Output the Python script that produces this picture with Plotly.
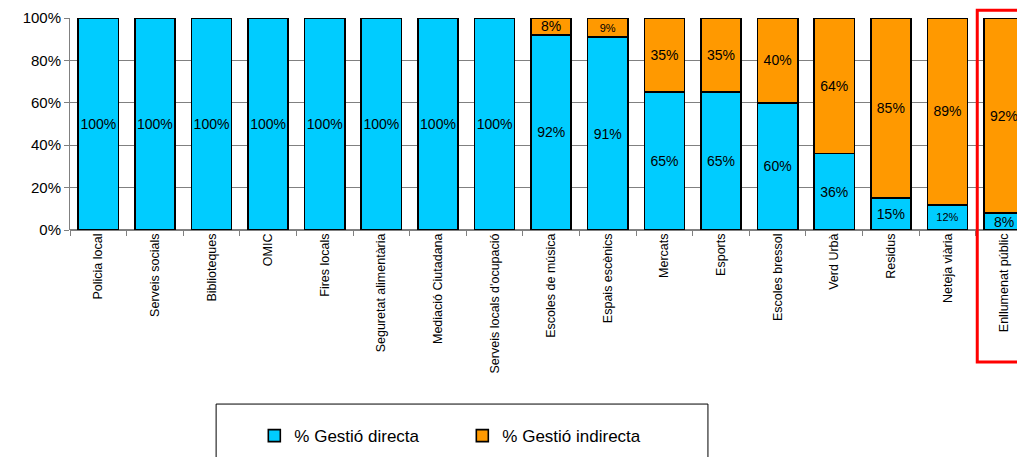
import plotly.graph_objects as go

categories = [
    "Policia local", "Serveis socials", "Biblioteques", "OMIC", "Fires locals",
    "Seguretat alimentària", "Mediació Ciutadana", "Serveis locals d'ocupació",
    "Escoles de música", "Espais escènics", "Mercats", "Esports",
    "Escoles bressol", "Verd Urbà", "Residus", "Neteja viària", "Enllumenat públic",
]
directa = [100, 100, 100, 100, 100, 100, 100, 100, 92, 91, 65, 65, 60, 36, 15, 12, 8]
indirecta = [0, 0, 0, 0, 0, 0, 0, 0, 8, 9, 35, 35, 40, 64, 85, 89, 92]

CYAN = "#00CCFF"
ORANGE = "#FF9900"


def labels(vals):
    return [f"{v}%" if v > 0 else "" for v in vals]


def sizes(vals):
    # smaller text where the original label was shrunk
    return [11 if v in (9, 12) else 14 for v in vals]


fig = go.Figure()
for name, vals, color in [
    ("% Gestió directa", directa, CYAN),
    ("% Gestió indirecta", indirecta, ORANGE),
]:
    fig.add_trace(
        go.Bar(
            x=categories,
            y=vals,
            name=name,
            marker=dict(color=color, line=dict(color="black", width=1.6)),
            text=labels(vals),
            textposition="inside",
            insidetextanchor="middle",
            textangle=0,
            textfont=dict(size=sizes(vals), color="black", family="Liberation Sans, Arial"),
            constraintext="none",
        )
    )

# page body has an 8px margin, so the figure is a bit smaller than the window
fig.update_layout(
    width=1017,
    height=449,
    barmode="stack",
    barnorm="percent",
    bargap=0.29,
    plot_bgcolor="white",
    paper_bgcolor="white",
    font=dict(family="Liberation Sans, Arial", color="black"),
    margin=dict(l=62, r=0, t=10, b=227, autoexpand=False),
    showlegend=True,
    legend=dict(
        orientation="h",
        traceorder="normal",
        x=0.193,
        y=-0.972,
        xanchor="left",
        yanchor="middle",
        font=dict(size=17),
        entrywidth=163,
        entrywidthmode="pixels",
        bgcolor="rgba(0,0,0,0)",
        itemwidth=30,
    ),
    xaxis=dict(
        type="category",
        automargin=False,
        range=[-0.5, 16.37],
        tickangle=-90,
        tickfont=dict(size=12.5),
        ticks="outside",
        tickson="boundaries",
        ticklen=5,
        tickcolor="#808080",
        showline=False,
        showgrid=False,
    ),
    yaxis=dict(
        automargin=False,
        range=[0, 100],
        dtick=20,
        ticksuffix="%",
        tickfont=dict(size=15),
        ticks="outside",
        ticklen=5,
        tickcolor="#808080",
        showline=True,
        linecolor="#808080",
        linewidth=1,
        showgrid=True,
        gridcolor="#808080",
        gridwidth=1,
        zeroline=True,
        zerolinecolor="#808080",
    ),
    shapes=[
        dict(type="rect", xref="paper", yref="paper", x0=0.153, x1=0.668, y0=-0.821, y1=-1.2,
             line=dict(color="black", width=1), fillcolor="rgba(0,0,0,0)"),
        dict(type="rect", xref="paper", yref="paper", x0=0.950, x1=1.05, y0=1.036, y1=-0.623,
             line=dict(color="red", width=3), fillcolor="rgba(0,0,0,0)"),
    ],
)

fig.write_html("out.html")
